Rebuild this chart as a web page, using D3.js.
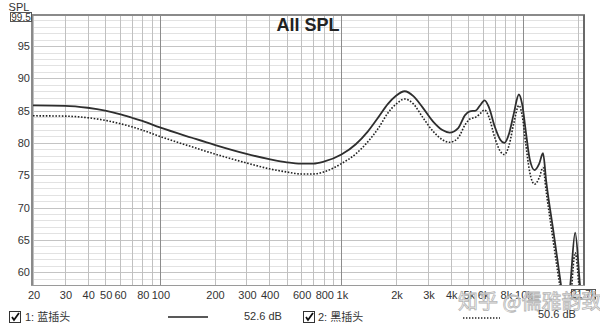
<!DOCTYPE html>
<html>
<head>
<meta charset="utf-8">
<script src="https://cdn.jsdelivr.net/npm/d3@7"></script>
<style>
  html, body { margin: 0; padding: 0; background: #fff; }
  svg { display: block; font-family: "Liberation Sans", Arial, "Noto Sans CJK SC", sans-serif; }
</style>
</head>
<body>
<svg id="chart" width="600" height="328"></svg>
<script>
// Frequency points (Hz) shared by both traces
const freqs = [20,30,40,50,60,70,80,100,150,200,300,400,500,600,700,800,
  1000,1200,1400,1600,1800,2000,2230,2500,2800,3200,3600,3950,4400,4800,5100,5500,
  5800,6150,6500,7000,7500,7900,8400,8900,9500,9900,10400,10900,11600,12300,12900,13430,
  14740,16240,17200,18200,19400,20660,21700];

// SPL (dB) of trace 1 (solid) and trace 2 (dotted)
const spl1 = [85.8,85.75,85.45,85.0,84.45,83.9,83.4,82.4,80.8,79.7,78.3,77.5,77.0,76.8,76.8,77.1,
  78.2,79.8,81.8,84.0,86.0,87.3,88.0,87.2,85.5,83.3,82.0,81.6,82.3,84.3,84.9,85.0,
  85.8,86.6,85.5,82.5,80.5,80.0,81.5,84.5,87.5,86.0,81.5,77.5,75.8,76.8,78.4,74.1,
  66.2,57.8,53.0,57.8,66.1,57.8,53.0];
const spl2 = [84.2,84.15,83.9,83.5,83.0,82.5,82.0,81.0,79.4,78.3,76.9,76.0,75.5,75.2,75.2,75.5,
  76.8,78.3,80.2,82.3,84.6,86.0,86.8,86.0,84.0,81.8,80.5,80.1,80.8,82.8,83.7,84.0,
  84.5,85.1,84.0,80.8,78.7,78.2,79.7,83.0,85.8,84.3,79.5,75.5,73.6,74.6,76.2,72.5,
  64.5,56.5,52.0,55.0,63.0,56.0,52.0];

const seriesNames = ["1: 蓝插头", "2: 黑插头"];
const seriesLevels = ["52.6 dB", "50.6 dB"];

const xTickValues = [20,30,40,50,60,80,100,200,300,400,600,800,1000,2000,3000,4000,5000,6000,8000,10000,20000];
const xTickLabels = ["20","30","40","50","60","80","100","200","300","400","600","800","1k","2k","3k","4k","5k","6k","8k","10k","20k"];
const yTickValues = [60,65,70,75,80,85,90,95];

const svg = d3.select("#chart");
const L = 33, R = 584, T = 16, B = 285;

const x = d3.scaleLog().domain([20, 21700]).range([L, R]);
const y = d3.scaleLinear().domain([58, 99.5]).range([B, T + 1]);

// grid lines
const gridX = [];
[10, 100, 1000, 10000].forEach(dec => {
  for (let m = 1; m <= 9; m++) {
    const f = dec * m;
    if (f >= 20 && f <= 21700) gridX.push(f);
  }
});
const grid = svg.append("g");
grid.selectAll(".hminor").data(d3.range(59, 100, 1)).join("line")
  .attr("x1", L).attr("x2", R)
  .attr("y1", d => Math.round(y(d)) + 0.5).attr("y2", d => Math.round(y(d)) + 0.5)
  .attr("stroke", d => d % 5 === 0 ? "#c4c4c4" : "#e2e2e2").attr("stroke-width", 1);
grid.selectAll(".v").data(gridX).join("line")
  .attr("y1", T).attr("y2", B)
  .attr("x1", d => Math.round(x(d)) + 0.5).attr("x2", d => Math.round(x(d)) + 0.5)
  .attr("stroke", d => [100, 1000, 10000].includes(d) ? "#8c8c8c" : "#c0c0c0")
  .attr("stroke-width", 1);

// frame
svg.append("line").attr("x1", L - 1).attr("x2", L - 1).attr("y1", T - 1).attr("y2", B)
  .attr("stroke", "#8a8a8a").attr("stroke-width", 2);
svg.append("line").attr("x1", L - 2).attr("x2", R + 1).attr("y1", T - 1).attr("y2", T - 1)
  .attr("stroke", "#8a8a8a").attr("stroke-width", 2);
svg.append("line").attr("x1", R).attr("x2", R).attr("y1", T - 1).attr("y2", B)
  .attr("stroke", "#6a6a6a").attr("stroke-width", 2);
svg.append("line").attr("x1", L - 2).attr("x2", R + 1).attr("y1", B + 0.5).attr("y2", B + 0.5)
  .attr("stroke", "#9a9a9a").attr("stroke-width", 1);

// traces
svg.append("clipPath").attr("id", "plotclip").append("rect")
  .attr("x", L).attr("y", T).attr("width", R - L).attr("height", B - T);
const line = d3.line().x(d => x(d[0])).y(d => y(d[1])).curve(d3.curveMonotoneX);
const plot = svg.append("g").attr("clip-path", "url(#plotclip)");
plot.append("path").datum(freqs.map((f, i) => [f, spl2[i]]))
  .attr("d", line).attr("fill", "none").attr("stroke", "#222")
  .attr("stroke-width", 1.6).attr("stroke-dasharray", "1.6,1.6");
plot.append("path").datum(freqs.map((f, i) => [f, spl1[i]]))
  .attr("d", line).attr("fill", "none").attr("stroke", "#2e2e2e")
  .attr("stroke-width", 1.8);

// axes labels
const txt = "#333";
svg.append("g").selectAll("text").data(yTickValues).join("text")
  .attr("x", 30).attr("y", d => y(d) + 4).attr("text-anchor", "end")
  .attr("font-size", 11).attr("fill", txt).text(d => d);
svg.append("text").attr("x", 19).attr("y", 11).attr("text-anchor", "middle")
  .attr("font-size", 11).attr("fill", txt).text("SPL");
svg.append("rect").attr("x", 10.5).attr("y", 12.5).attr("width", 21).attr("height", 9)
  .attr("fill", "#fff").attr("stroke", "#555");
svg.append("text").attr("x", 21).attr("y", 20.5).attr("text-anchor", "middle")
  .attr("font-size", 10).attr("fill", txt).text("99.5");

svg.append("g").selectAll("text").data(xTickValues).join("text")
  .attr("x", d => x(d) + 1).attr("y", 299).attr("text-anchor", "middle")
  .attr("font-size", 11).attr("fill", txt).text((d, i) => xTickLabels[i]);
svg.append("rect").attr("x", 571.5).attr("y", 289.5).attr("width", 24).attr("height", 9.5)
  .attr("fill", "#fff").attr("stroke", "#555");
svg.append("text").attr("x", 583.5).attr("y", 298).attr("text-anchor", "middle")
  .attr("font-size", 10).attr("fill", txt).text("21.7k");

// title
svg.append("text").attr("x", 308).attr("y", 31).attr("text-anchor", "middle")
  .attr("font-size", 18).attr("font-weight", "bold").attr("fill", "#222").text("All SPL");

// watermark
svg.append("text").attr("x", 458).attr("y", 309)
  .attr("font-size", 20).attr("fill", "#ffffff").attr("fill-opacity", 0.7)
  .attr("stroke", "#b5b5b5").attr("stroke-width", 0.8)
  .attr("font-family", "Noto Sans CJK SC, sans-serif").text("知乎 @儒雅韵致");

// legend
function checkbox(cx, cy) {
  const g = svg.append("g");
  g.append("rect").attr("x", cx + 0.5).attr("y", cy + 0.5).attr("width", 11).attr("height", 11)
    .attr("fill", "#fff").attr("stroke", "#333");
  g.append("path").attr("d", `M${cx + 3},${cy + 6} L${cx + 5},${cy + 9} L${cx + 10},${cy + 2}`)
    .attr("fill", "none").attr("stroke", "#111").attr("stroke-width", 1.8);
}
checkbox(9, 311);
svg.append("text").attr("x", 25).attr("y", 321).attr("font-size", 11).attr("fill", txt).text(seriesNames[0]);
svg.append("line").attr("x1", 168).attr("x2", 208).attr("y1", 317).attr("y2", 317)
  .attr("stroke", "#222").attr("stroke-width", 1.6);
svg.append("text").attr("x", 244).attr("y", 320).attr("font-size", 11).attr("fill", txt).text(seriesLevels[0]);
checkbox(303, 311);
svg.append("text").attr("x", 318).attr("y", 321).attr("font-size", 11).attr("fill", txt).text(seriesNames[1]);
svg.append("line").attr("x1", 463).attr("x2", 500).attr("y1", 318).attr("y2", 318)
  .attr("stroke", "#222").attr("stroke-width", 1.4).attr("stroke-dasharray", "1.4,1.6");
svg.append("text").attr("x", 538).attr("y", 318).attr("font-size", 11).attr("fill", txt).text(seriesLevels[1]);
</script>
</body>
</html>
